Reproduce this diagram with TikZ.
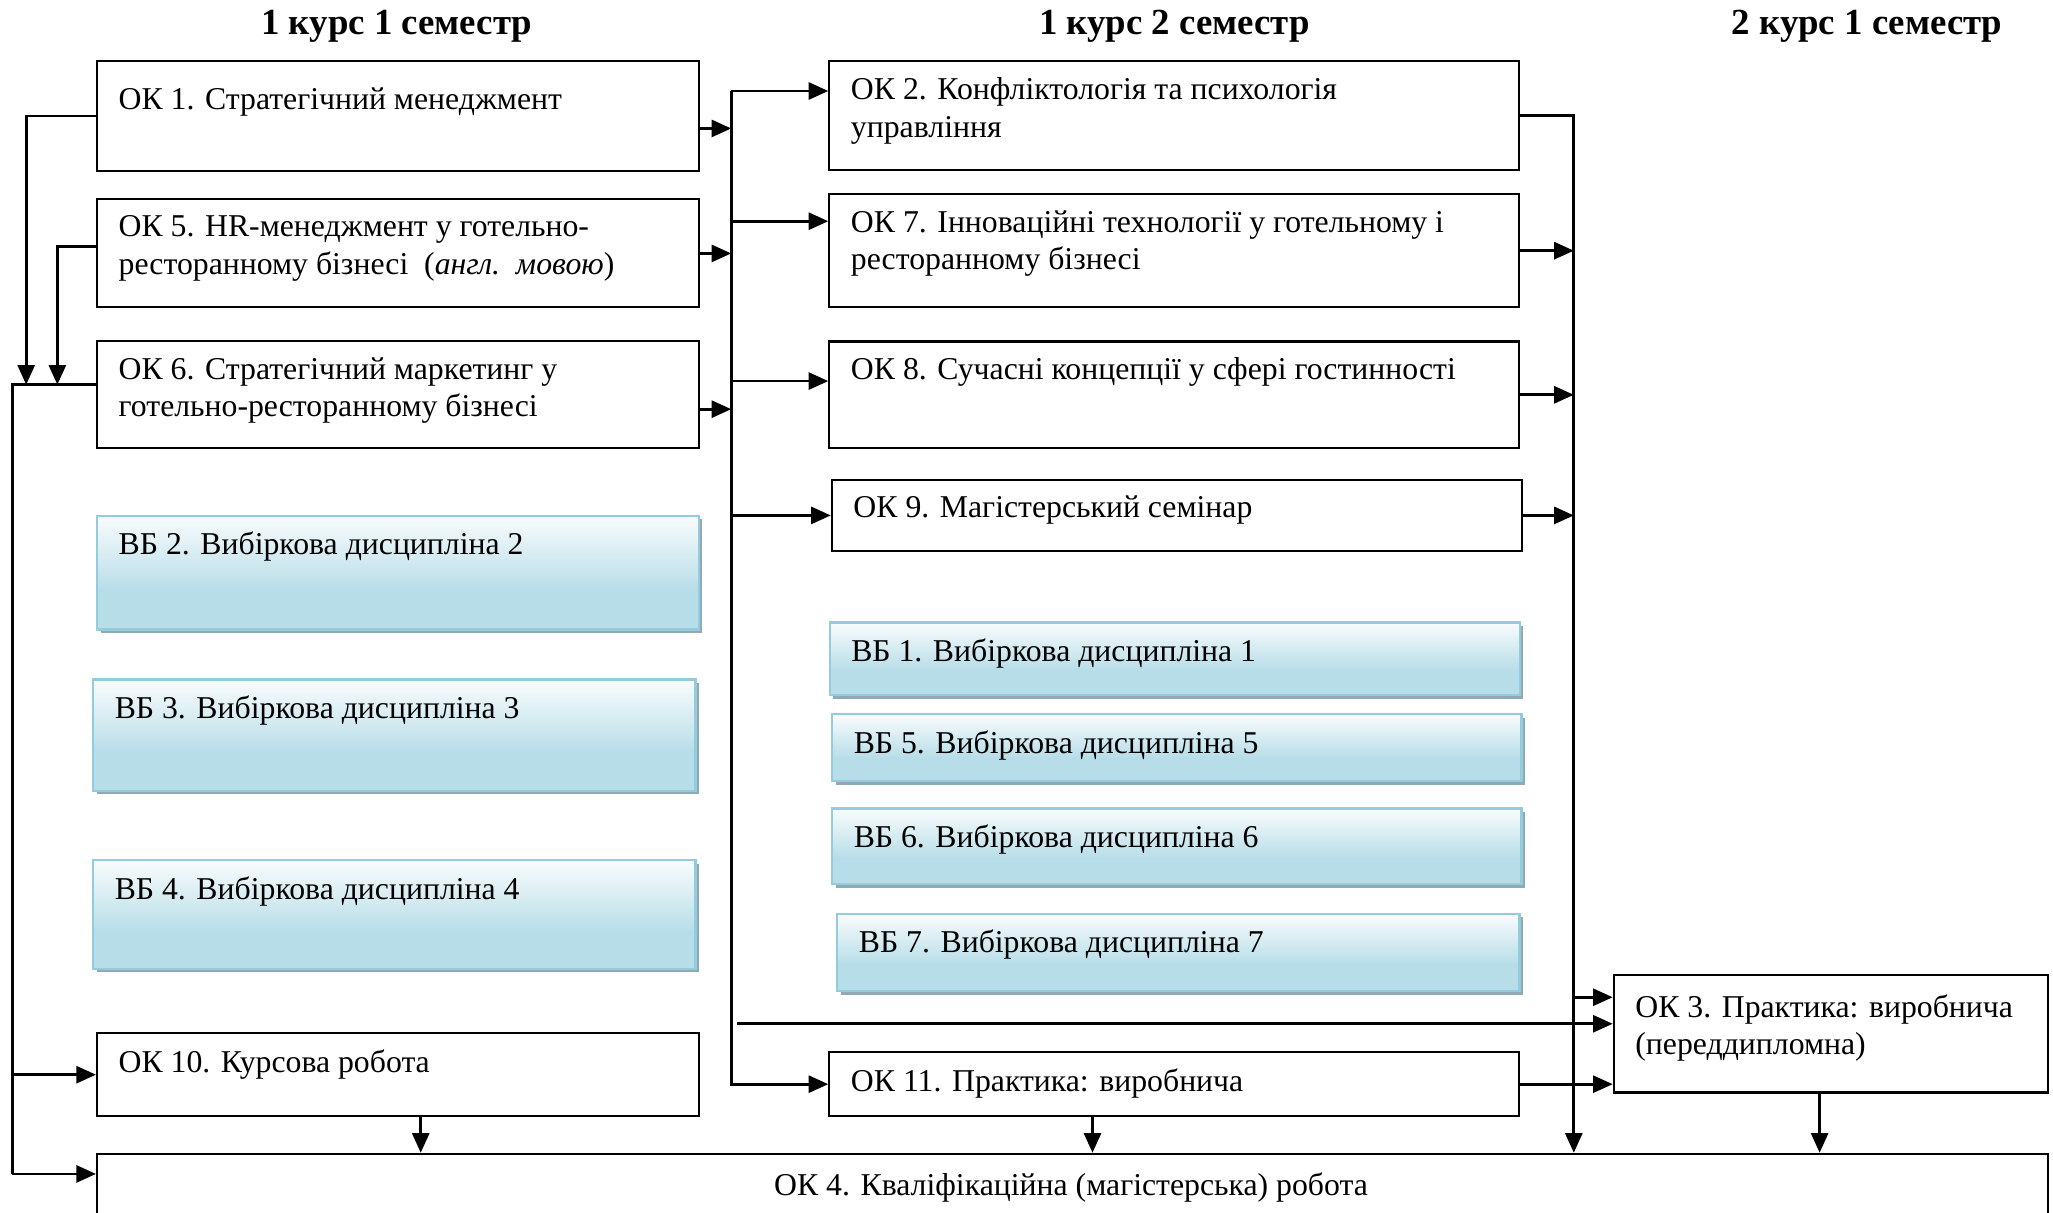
\documentclass[tikz,border=0pt]{standalone}
\usepackage{fontspec}
\setmainfont{Liberation Serif}
\usetikzlibrary{arrows.meta,shadows}

\definecolor{vbfill}{HTML}{B7DDE8}
\definecolor{vbtop}{HTML}{F9FCFD}
\definecolor{vbline}{HTML}{93CDDD}
\definecolor{vbshade}{HTML}{8FAAB4}
\pgfdeclareverticalshading{vbgrad}{100bp}{color(0bp)=(vbfill); color(42bp)=(vbfill); color(75bp)=(vbtop); color(100bp)=(vbtop)}

\tikzset{
  box/.style={draw, line width=.9pt, anchor=north west, inner sep=0pt},
  vb/.style={draw=vbline, line width=1pt, shade, shading=vbgrad, anchor=north west, inner sep=0pt,
    drop shadow={shadow xshift=.55mm, shadow yshift=-.55mm, fill=vbshade, opacity=1}},
  lbl/.style={anchor=north west, inner sep=0pt, align=left, font=\fontsize{13.8}{16.4}\selectfont},
  ttl/.style={anchor=base, inner sep=0pt, font=\bfseries\fontsize{16}{19}\selectfont},
  ln/.style={line width=1.2pt},
  arr/.style={ln, -{Triangle[length=3mm,width=2.6mm]}},
}

\begin{document}
\begin{tikzpicture}[x=0.2mm, y=-0.2mm]
  \def\wa{91.9mm}
  \def\wb{105.4mm}
  \def\tx{3.4mm}
  \def\ty{-2.6mm}
  \useasboundingbox (0,0) rectangle (1568,926);

  % semesters
  \node[ttl] (t1) at (303,26) {1 курс 1 семестр};
  \node[ttl] (t2) at (897,26) {1 курс 2 семестр};
  \node[ttl] (t3) at (1426,26) {2 курс 1 семестр};

  % first column
  \node[box, minimum width=\wa, minimum height=16.8mm] (ok1) at (73.3,45.8) {};
  \node[box, minimum width=\wa, minimum height=16.5mm] (ok5) at (73.3,151.5) {};
  \node[box, minimum width=\wa, minimum height=16.4mm] (ok6) at (73.3,259.7) {};
  \node[vb, minimum width=\wa, minimum height=17.4mm] (vb2) at (73.3,393) {};
  \node[vb, minimum width=92mm, minimum height=17mm] (vb3) at (70.3,518) {};
  \node[vb, minimum width=92mm, minimum height=16.6mm] (vb4) at (70.3,656) {};
  \node[box, minimum width=\wa, minimum height=12.6mm] (ok10) at (73.3,788.5) {};

  % second column
  \node[box, minimum width=\wb, minimum height=16.7mm] (ok2) at (632.6,45.8) {};
  \node[box, minimum width=\wb, minimum height=17.3mm] (ok7) at (632.6,147.4) {};
  \node[box, minimum width=\wb, minimum height=16.3mm] (ok8) at (632.6,260) {};
  \node[box, minimum width=\wb, minimum height=10.9mm] (ok9) at (634.5,365.6) {};
  \node[vb, minimum width=\wb, minimum height=11.1mm] (vb1) at (632.8,474.5) {};
  \node[vb, minimum width=105.3mm, minimum height=10.2mm] (vb5) at (634.7,544.6) {};
  \node[vb, minimum width=105.3mm, minimum height=11.6mm] (vb6) at (634.7,616.5) {};
  \node[vb, minimum width=104.2mm, minimum height=11.8mm] (vb7) at (638.6,697) {};
  \node[box, minimum width=\wb, minimum height=9.7mm] (ok11) at (632.6,803) {};

  % third column and final work
  \node[box, minimum width=66.3mm, minimum height=17.9mm] (ok3) at (1231.7,744.1) {};
  \node[box, minimum width=298mm, minimum height=14mm] (ok4) at (73.3,880.4) {};

  % texts
  \node[lbl] (ok1t) at ([shift={(\tx,-4.2mm)}]ok1.north west) {ОК 1. Стратегічний менеджмент};
  \node[lbl] (ok5t) at ([shift={(\tx,\ty)}]ok5.north west) {ОК 5. HR-менеджмент у готельно-\\ресторанному бізнесі\ \ (\textit{англ.\ \ мовою})};
  \node[lbl] (ok6t) at ([shift={(\tx,\ty)}]ok6.north west) {ОК 6. Стратегічний маркетинг у\\готельно-ресторанному бізнесі};
  \node[lbl] (vb2t) at ([shift={(\tx,\ty)}]vb2.north west) {ВБ 2. Вибіркова дисципліна 2};
  \node[lbl] (vb3t) at ([shift={(\tx,\ty)}]vb3.north west) {ВБ 3. Вибіркова дисципліна 3};
  \node[lbl] (vb4t) at ([shift={(\tx,\ty)}]vb4.north west) {ВБ 4. Вибіркова дисципліна 4};
  \node[lbl] (ok10t) at ([shift={(\tx,\ty)}]ok10.north west) {ОК 10. Курсова робота};
  \node[lbl] (ok2t) at ([shift={(\tx,\ty)}]ok2.north west) {ОК 2. Конфліктологія та психологія\\управління};
  \node[lbl] (ok7t) at ([shift={(\tx,\ty)}]ok7.north west) {ОК 7. Інноваційні технології у готельному і\\ресторанному бізнесі};
  \node[lbl] (ok8t) at ([shift={(\tx,\ty)}]ok8.north west) {ОК 8. Сучасні концепції у сфері гостинності};
  \node[lbl] (ok9t) at ([shift={(\tx,\ty)}]ok9.north west) {ОК 9. Магістерський семінар};
  \node[lbl] (vb1t) at ([shift={(\tx,\ty)}]vb1.north west) {ВБ 1. Вибіркова дисципліна 1};
  \node[lbl] (vb5t) at ([shift={(\tx,\ty)}]vb5.north west) {ВБ 5. Вибіркова дисципліна 5};
  \node[lbl] (vb6t) at ([shift={(\tx,\ty)}]vb6.north west) {ВБ 6. Вибіркова дисципліна 6};
  \node[lbl] (vb7t) at ([shift={(\tx,\ty)}]vb7.north west) {ВБ 7. Вибіркова дисципліна 7};
  \node[lbl] (ok11t) at ([shift={(\tx,\ty)}]ok11.north west) {ОК 11. Практика: виробнича};
  \node[lbl] (ok3t) at ([shift={(\tx,-3mm)}]ok3.north west) {ОК 3. Практика: виробнича\\(переддипломна)};
  \node[lbl, anchor=base] (ok4t) at (818,913) {ОК 4. Кваліфікаційна (магістерська) робота};

  % left lines
  \coordinate (j1) at (20,293.8);
  \coordinate (j5) at (43.8,293.8);
  \coordinate (lt) at (9.4,293.8);
  \coordinate (lb) at (9.4,896.6);
  \draw[arr] (ok1.west) -| (j1);
  \draw[arr] ([yshift=1mm]ok5.west) -| (j5);
  \draw[ln] (ok6.west |- lt) -- (lt) -- (lb);
  \draw[arr] (lb) -- (lb -| ok4.west);
  \draw[arr] (ok10.west -| lt) -- (ok10.west);

  % middle bus
  \coordinate (ct) at (558.5,69.5);
  \coordinate (c3) at (563,781.9);
  \draw[arr] (ct) |- (ok11.west);
  \draw[arr] (ct) -- (ct -| ok2.west);
  \draw[arr] ([yshift=-1.9mm]ok1.east) -- ([yshift=-1.9mm]ok1.east -| ct);
  \draw[arr] (ok5.east) -- (ok5.east -| ct);
  \draw[arr] ([yshift=-2.2mm]ok6.east) -- ([yshift=-2.2mm]ok6.east -| ct);
  \draw[arr] ([yshift=4.5mm]ok7.west -| ct) -- ([yshift=4.5mm]ok7.west);
  \draw[arr] ([yshift=2.1mm]ok8.west -| ct) -- ([yshift=2.1mm]ok8.west);
  \draw[arr] (ok9.west -| ct) -- (ok9.west);
  \draw[arr] (c3) -- (c3 -| ok3.west);

  % right bus
  \coordinate (rb) at (1202,87.6);
  \draw[arr] (ok2.east) -| (rb |- ok4.north);
  \draw[arr] (ok7.east) -- (ok7.east -| rb);
  \draw[arr] (ok8.east) -- (ok8.east -| rb);
  \draw[arr] (ok9.east) -- (ok9.east -| rb);
  \draw[arr] ([yshift=5.6mm]ok3.west -| rb) -- ([yshift=5.6mm]ok3.west);
  \draw[arr] (ok11.east) -- (ok11.east -| ok3.west);

  % into the final work
  \draw[arr] ([xshift=3.5mm]ok10.south) -- ([xshift=3.5mm]ok10.south |- ok4.north);
  \draw[arr] ([xshift=-12.5mm]ok11.south) -- ([xshift=-12.5mm]ok11.south |- ok4.north);
  \draw[arr] ([xshift=-1.7mm]ok3.south) -- ([xshift=-1.7mm]ok3.south |- ok4.north);
\end{tikzpicture}
\end{document}
